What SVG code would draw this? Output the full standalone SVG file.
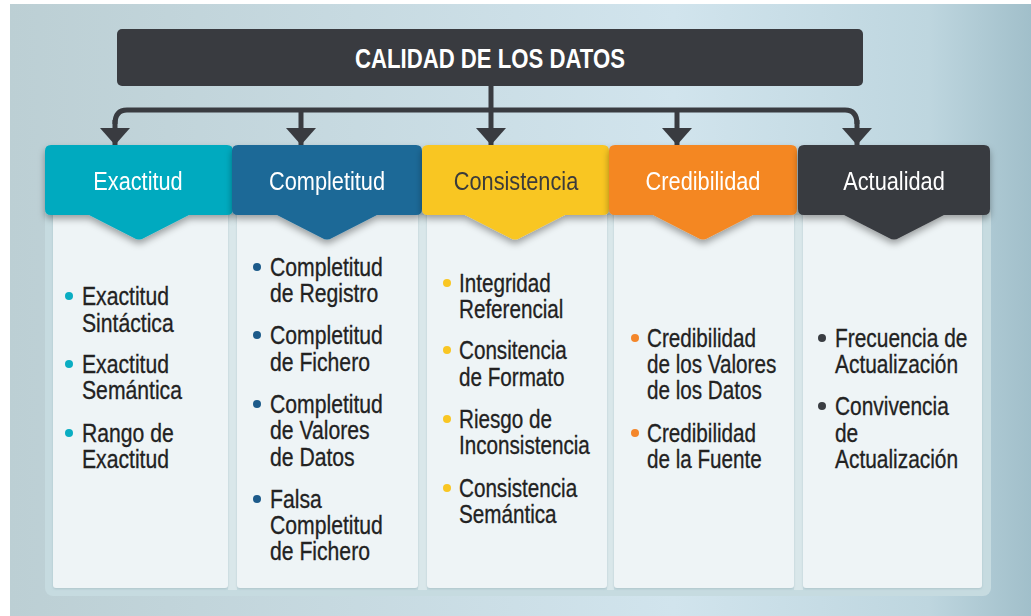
<svg xmlns="http://www.w3.org/2000/svg" width="1031" height="616" viewBox="0 0 1031 616">
  <defs>
    <linearGradient id="bg" x1="0" y1="0" x2="1" y2="0">
      <stop offset="0" stop-color="#bccfd4"/>
      <stop offset="0.65" stop-color="#d1e4ed"/>
      <stop offset="0.9" stop-color="#bed6df"/>
      <stop offset="1" stop-color="#a1bfca"/>
    </linearGradient>
    <filter id="sh" x="-10%" y="-20%" width="120%" height="160%">
      <feDropShadow dx="0" dy="4" stdDeviation="3.5" flood-color="#000" flood-opacity="0.35"/>
    </filter>
    <filter id="psh" x="-10%" y="-5%" width="120%" height="110%">
      <feDropShadow dx="0" dy="1" stdDeviation="1" flood-color="#7f9aa3" flood-opacity="0.35"/>
    </filter>
    <marker id="ah" viewBox="0 0 17 30" refX="17" refY="15" markerWidth="17" markerHeight="30" markerUnits="userSpaceOnUse" orient="auto">
      <path d="M0,0 L17,15 L0,30 Z" fill="#393b40"/>
    </marker>
    <style>
      .hdr-t { font-family: "Liberation Sans", Arial, sans-serif; font-size: 25px; fill: #ffffff; text-anchor: middle; }
      .body-t { font-family: "Liberation Sans", Arial, sans-serif; font-size: 25.5px; fill: #222222; stroke: #222222; stroke-width: 0.3px; }
      .panel { fill: #eef4f6; filter: url(#psh); }
      .gap { fill: #d9e7ea; }
      .conn { fill: none; stroke: #393b40; stroke-width: 5; }
      .hdr { filter: url(#sh); }
    </style>
  </defs>

  <!-- background -->
  <rect x="10" y="4" width="1021" height="612" fill="url(#bg)"/>
  <rect x="45" y="205" width="946" height="391" rx="8" fill="#c6dbe0"/>
  <rect x="228" y="215" width="9" height="375" class="gap"/>
  <rect x="418" y="215" width="9" height="375" class="gap"/>
  <rect x="607" y="215" width="7" height="375" class="gap"/>
  <rect x="794" y="215" width="9" height="375" class="gap"/>

  <!-- panels -->
  <rect class="panel" x="53" y="210" width="175" height="378" rx="3"/>
  <rect class="panel" x="237" y="210" width="181" height="378" rx="3"/>
  <rect class="panel" x="427" y="210" width="180" height="378" rx="3"/>
  <rect class="panel" x="614" y="210" width="180" height="378" rx="3"/>
  <rect class="panel" x="803" y="210" width="179" height="378" rx="3"/>

  <!-- connectors -->
  <g id="connectors">
    <path class="conn" d="M491,86 V110"/>
    <path class="conn" d="M115,124 Q115,110 127,110 H845 Q857,110 857,124"/>
    <path class="conn" d="M115,120 V145" marker-end="url(#ah)"/>
    <path class="conn" d="M857,120 V145" marker-end="url(#ah)"/>
    <path class="conn" d="M301,110 V145" marker-end="url(#ah)"/>
    <path class="conn" d="M491,110 V145" marker-end="url(#ah)"/>
    <path class="conn" d="M677,110 V145" marker-end="url(#ah)"/>
  </g>

  <!-- title -->
  <g id="title">
    <rect x="117" y="29" width="746" height="57" rx="5" fill="#393b40"/>
    <text x="490" y="68" font-family="'Liberation Sans', Arial, sans-serif" font-weight="bold" font-size="28" fill="#ffffff" text-anchor="middle" textLength="270" lengthAdjust="spacingAndGlyphs">CALIDAD DE LOS DATOS</text>
  </g>

  <!-- headers -->
  <g id="h-exactitud" class="hdr">
    <path fill="#00aabf" d="M51,145 H227 Q233,145 233,151 V209 Q233,215 227,215 H189 L144,238 Q139,241 134,238 L89,215 H51 Q45,215 45,209 V151 Q45,145 51,145 Z"/>
    <text class="hdr-t" transform="translate(138,190) scale(0.87,1)">Exactitud</text>
  </g>
  <g id="h-completitud" class="hdr">
    <path fill="#1b6997" d="M238,145 H416 Q422,145 422,151 V209 Q422,215 416,215 H377 L332,238 Q327,241 322,238 L277,215 H238 Q232,215 232,209 V151 Q232,145 238,145 Z"/>
    <text class="hdr-t" transform="translate(327,190) scale(0.87,1)">Completitud</text>
  </g>
  <g id="h-consistencia" class="hdr">
    <path fill="#f9c623" d="M428,145 H603 Q609,145 609,151 V209 Q609,215 603,215 H565 L520,238 Q515,241 510,238 L465,215 H428 Q422,215 422,209 V151 Q422,145 428,145 Z"/>
    <text class="hdr-t" style="fill:#3a3a3a" transform="translate(516,190) scale(0.87,1)">Consistencia</text>
  </g>
  <g id="h-credibilidad" class="hdr">
    <path fill="#f48722" d="M615,145 H791 Q797,145 797,151 V209 Q797,215 791,215 H753 L708,238 Q703,241 698,238 L653,215 H615 Q609,215 609,209 V151 Q609,145 615,145 Z"/>
    <text class="hdr-t" transform="translate(703,190) scale(0.87,1)">Credibilidad</text>
  </g>
  <g id="h-actualidad" class="hdr">
    <path fill="#393b40" d="M804,145 H984 Q990,145 990,151 V209 Q990,215 984,215 H944 L899,238 Q894,241 889,238 L844,215 H804 Q798,215 798,209 V151 Q798,145 804,145 Z"/>
    <text class="hdr-t" transform="translate(894,190) scale(0.87,1)">Actualidad</text>
  </g>

  <!-- column 1 -->
  <g id="c-exactitud">
    <circle cx="69" cy="296" r="4" fill="#0aadc2"/>
    <circle cx="69" cy="364" r="4" fill="#0aadc2"/>
    <circle cx="69" cy="433" r="4" fill="#0aadc2"/>
    <g transform="translate(82,0) scale(0.83,1)">
      <text class="body-t" x="0" y="305">Exactitud</text>
      <text class="body-t" x="0" y="332">Sintáctica</text>
      <text class="body-t" x="0" y="373">Exactitud</text>
      <text class="body-t" x="0" y="399">Semántica</text>
      <text class="body-t" x="0" y="442">Rango de</text>
      <text class="body-t" x="0" y="468">Exactitud</text>
    </g>
  </g>

  <!-- column 2 -->
  <g id="c-completitud">
    <circle cx="257" cy="267" r="4" fill="#1c5a8a"/>
    <circle cx="257" cy="335" r="4" fill="#1c5a8a"/>
    <circle cx="257" cy="404" r="4" fill="#1c5a8a"/>
    <circle cx="257" cy="499" r="4" fill="#1c5a8a"/>
    <g transform="translate(270,0) scale(0.83,1)">
      <text class="body-t" x="0" y="276">Completitud</text>
      <text class="body-t" x="0" y="302">de Registro</text>
      <text class="body-t" x="0" y="344">Completitud</text>
      <text class="body-t" x="0" y="371">de Fichero</text>
      <text class="body-t" x="0" y="413">Completitud</text>
      <text class="body-t" x="0" y="439">de Valores</text>
      <text class="body-t" x="0" y="466">de Datos</text>
      <text class="body-t" x="0" y="508">Falsa</text>
      <text class="body-t" x="0" y="534">Completitud</text>
      <text class="body-t" x="0" y="560">de Fichero</text>
    </g>
  </g>

  <!-- column 3 -->
  <g id="c-consistencia">
    <circle cx="447" cy="283" r="4" fill="#f9c623"/>
    <circle cx="447" cy="350" r="4" fill="#f9c623"/>
    <circle cx="447" cy="419" r="4" fill="#f9c623"/>
    <circle cx="447" cy="488" r="4" fill="#f9c623"/>
    <g transform="translate(459,0) scale(0.81,1)">
      <text class="body-t" x="0" y="292">Integridad</text>
      <text class="body-t" x="0" y="318">Referencial</text>
      <text class="body-t" x="0" y="359">Consitencia</text>
      <text class="body-t" x="0" y="386">de Formato</text>
      <text class="body-t" x="0" y="428">Riesgo de</text>
      <text class="body-t" x="0" y="454">Inconsistencia</text>
      <text class="body-t" x="0" y="497">Consistencia</text>
      <text class="body-t" x="0" y="523">Semántica</text>
    </g>
  </g>

  <!-- column 4 -->
  <g id="c-credibilidad">
    <circle cx="635" cy="338" r="4" fill="#f4862a"/>
    <circle cx="635" cy="433" r="4" fill="#f4862a"/>
    <g transform="translate(647,0) scale(0.81,1)">
      <text class="body-t" x="0" y="347">Credibilidad</text>
      <text class="body-t" x="0" y="373">de los Valores</text>
      <text class="body-t" x="0" y="399">de los Datos</text>
      <text class="body-t" x="0" y="442">Credibilidad</text>
      <text class="body-t" x="0" y="468">de la Fuente</text>
    </g>
  </g>

  <!-- column 5 -->
  <g id="c-actualidad">
    <circle cx="822" cy="338" r="4" fill="#3a3d42"/>
    <circle cx="822" cy="406" r="4" fill="#3a3d42"/>
    <g transform="translate(835,0) scale(0.82,1)">
      <text class="body-t" x="0" y="347">Frecuencia de</text>
      <text class="body-t" x="0" y="373">Actualización</text>
      <text class="body-t" x="0" y="415">Convivencia</text>
      <text class="body-t" x="0" y="442">de</text>
      <text class="body-t" x="0" y="468">Actualización</text>
    </g>
  </g>
</svg>
